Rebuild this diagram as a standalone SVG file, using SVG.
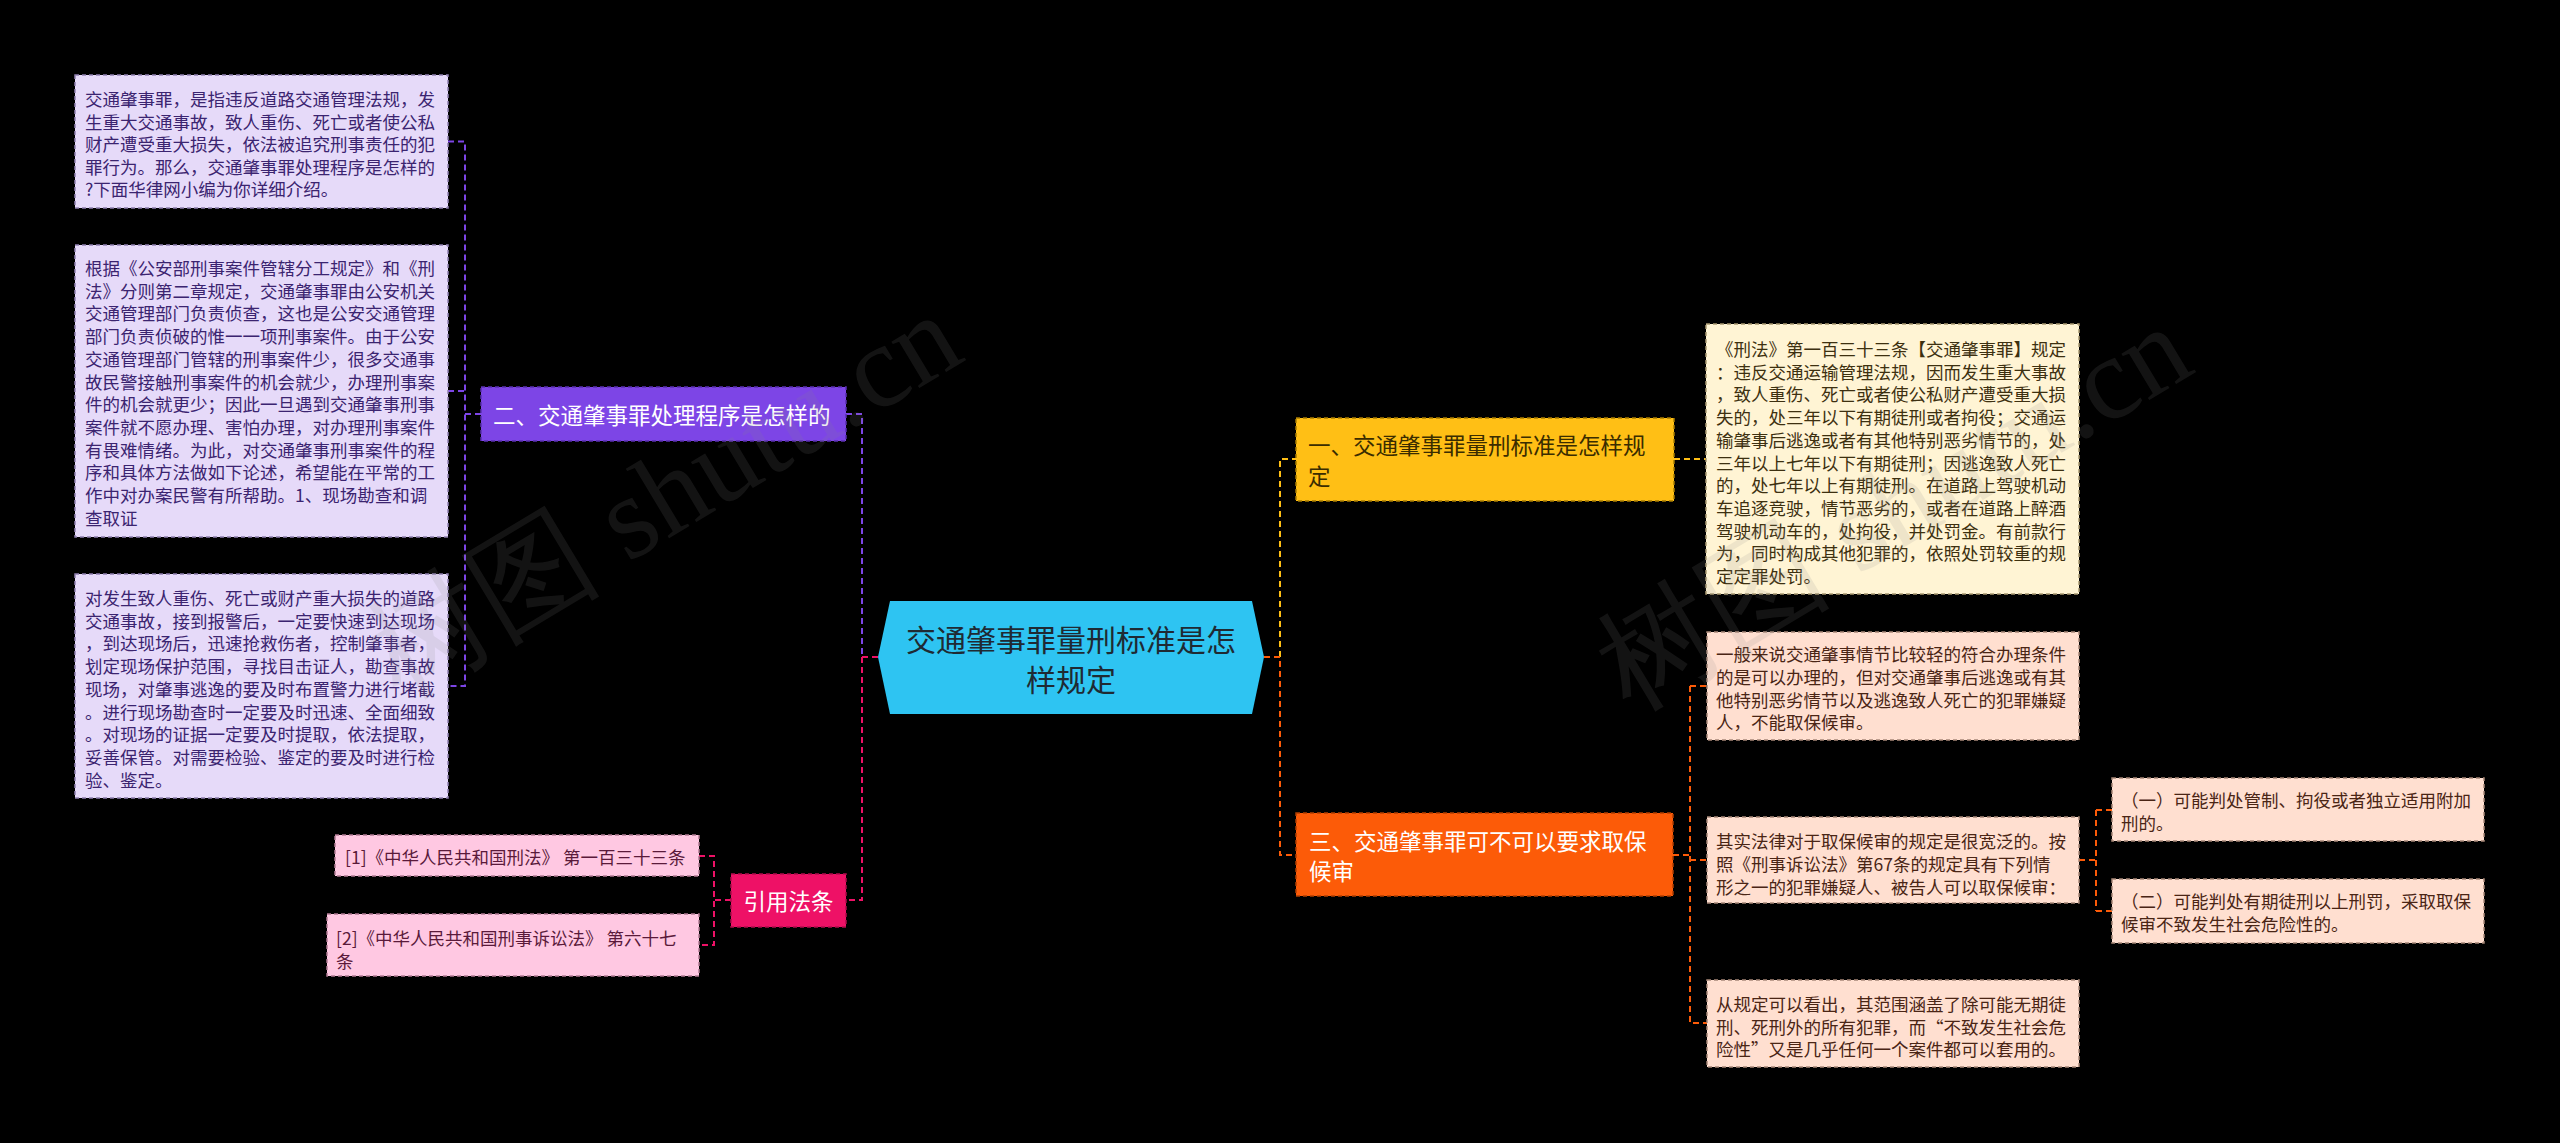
<svg xmlns="http://www.w3.org/2000/svg" width="2560" height="1143" viewBox="0 0 2560 1143">
<style>
text{font-family:"Noto Sans CJK SC","Noto Sans",sans-serif}
.t{font-size:17.5px;dominant-baseline:central}
.b{font-size:22.5px;dominant-baseline:central}
.c{stroke-width:2;stroke-dasharray:6 4;fill:none}
.box{stroke-width:1.5;stroke-dasharray:4 3}
.wm{font-family:"Liberation Serif",serif;font-size:118px;fill:#8a8a8a;opacity:0.14}
</style>
<rect width="2560" height="1143" fill="#000"/>
<g id="connectors">
<path class="c" stroke="#7d45e6" d="M448 141.5H465V686H448M448 391H465M465 414H481M846 414H862V657"/>
<path class="c" stroke="#ee1166" d="M862 657H878M862 657V900H846M731 900H714M699 856H714V945H699"/>
<path class="c" stroke="#ffbf15" d="M1280 657V459H1296M1674 459H1706"/>
<path class="c" stroke="#fc5b08" d="M1264 657H1280V855H1296M1673 855H1690M1690 686V1023H1707M1690 686H1707M1690 860H1707M2079 860H2096M2096 810V911M2096 810H2112M2096 911H2112"/>
</g>
<g id="center">
<polygon points="878,657 890,601 1252,601 1264,657 1252,714 890,714" fill="#2ec4f2"/>
<text x="1071" y="638" font-size="30" fill="#1f2a33" text-anchor="middle" dominant-baseline="central">交通肇事罪量刑标准是怎</text>
<text x="1071" y="678" font-size="30" fill="#1f2a33" text-anchor="middle" dominant-baseline="central">样规定</text>
</g>
<g id="n2">
<rect class="box" x="481" y="387" width="365" height="54" fill="#7d45e6" stroke="#5a2fb0"/>
<text class="b" x="493" y="414" fill="#fff">二、交通肇事罪处理程序是怎样的</text>
</g>
<g id="n2a">
<rect class="box" x="75" y="75" width="373" height="133" fill="#e6daf9" stroke="#8e7fae"/>
<text class="t" fill="#3b2470"><tspan x="85" y="98">交通肇事罪，是指违反道路交通管理法规，发</tspan><tspan x="85" y="120.5">生重大交通事故，致人重伤、死亡或者使公私</tspan><tspan x="85" y="143">财产遭受重大损失，依法被追究刑事责任的犯</tspan><tspan x="85" y="165.5">罪行为。那么，交通肇事罪处理程序是怎样的</tspan><tspan x="85" y="188">?下面华律网小编为你详细介绍。</tspan></text>
</g>
<g id="n2b">
<rect class="box" x="75" y="245" width="373" height="292" fill="#e6daf9" stroke="#8e7fae"/>
<text class="t" fill="#3b2470"><tspan x="85" y="267">根据《公安部刑事案件管辖分工规定》和《刑</tspan><tspan x="85" y="289.7">法》分则第二章规定，交通肇事罪由公安机关</tspan><tspan x="85" y="312.4">交通管理部门负责侦查，这也是公安交通管理</tspan><tspan x="85" y="335.1">部门负责侦破的惟一一项刑事案件。由于公安</tspan><tspan x="85" y="357.8">交通管理部门管辖的刑事案件少，很多交通事</tspan><tspan x="85" y="380.5">故民警接触刑事案件的机会就少，办理刑事案</tspan><tspan x="85" y="403.2">件的机会就更少；因此一旦遇到交通肇事刑事</tspan><tspan x="85" y="425.9">案件就不愿办理、害怕办理，对办理刑事案件</tspan><tspan x="85" y="448.6">有畏难情绪。为此，对交通肇事刑事案件的程</tspan><tspan x="85" y="471.3">序和具体方法做如下论述，希望能在平常的工</tspan><tspan x="85" y="494">作中对办案民警有所帮助。1、现场勘查和调</tspan><tspan x="85" y="516.7">查取证</tspan></text>
</g>
<g id="n2c">
<rect class="box" x="75" y="574" width="373" height="224" fill="#e6daf9" stroke="#8e7fae"/>
<text class="t" fill="#3b2470"><tspan x="85" y="597">对发生致人重伤、死亡或财产重大损失的道路</tspan><tspan x="85" y="619.7">交通事故，接到报警后，一定要快速到达现场</tspan><tspan x="85" y="642.4">，到达现场后，迅速抢救伤者，控制肇事者，</tspan><tspan x="85" y="665.1">划定现场保护范围，寻找目击证人，勘查事故</tspan><tspan x="85" y="687.8">现场，对肇事逃逸的要及时布置警力进行堵截</tspan><tspan x="85" y="710.5">。进行现场勘查时一定要及时迅速、全面细致</tspan><tspan x="85" y="733.2">。对现场的证据一定要及时提取，依法提取，</tspan><tspan x="85" y="755.9">妥善保管。对需要检验、鉴定的要及时进行检</tspan><tspan x="85" y="778.6">验、鉴定。</tspan></text>
</g>
<g id="ref">
<rect class="box" x="731" y="874" width="115" height="53" fill="#ee1166" stroke="#b00c4c"/>
<text class="b" x="788.5" y="900" fill="#fff" text-anchor="middle">引用法条</text>
</g>
<g id="ref1">
<rect class="box" x="335" y="835" width="364" height="41" fill="#ffc8e2" stroke="#b07a93"/>
<text class="t" x="345" y="856" fill="#5a1a3a">[1]《中华人民共和国刑法》 第一百三十三条</text>
</g>
<g id="ref2">
<rect class="box" x="327" y="914" width="372" height="62" fill="#ffc8e2" stroke="#b07a93"/>
<text class="t" fill="#5a1a3a"><tspan x="336" y="937">[2]《中华人民共和国刑事诉讼法》 第六十七</tspan><tspan x="336" y="960">条</tspan></text>
</g>
<g id="n1">
<rect class="box" x="1296" y="418" width="378" height="83" fill="#ffbf15" stroke="#a87c00"/>
<text class="b" fill="#3a2c00"><tspan x="1308" y="444">一、交通肇事罪量刑标准是怎样规</tspan><tspan x="1308" y="475">定</tspan></text>
</g>
<g id="n1a">
<rect class="box" x="1706" y="324" width="373" height="270" fill="#fff4d4" stroke="#a89870"/>
<text class="t" fill="#3d3010"><tspan x="1716" y="348">《刑法》第一百三十三条【交通肇事罪】规定</tspan><tspan x="1716" y="370.7">：违反交通运输管理法规，因而发生重大事故</tspan><tspan x="1716" y="393.4">，致人重伤、死亡或者使公私财产遭受重大损</tspan><tspan x="1716" y="416.1">失的，处三年以下有期徒刑或者拘役；交通运</tspan><tspan x="1716" y="438.8">输肇事后逃逸或者有其他特别恶劣情节的，处</tspan><tspan x="1716" y="461.5">三年以上七年以下有期徒刑；因逃逸致人死亡</tspan><tspan x="1716" y="484.2">的，处七年以上有期徒刑。在道路上驾驶机动</tspan><tspan x="1716" y="506.9">车追逐竞驶，情节恶劣的，或者在道路上醉酒</tspan><tspan x="1716" y="529.6">驾驶机动车的，处拘役，并处罚金。有前款行</tspan><tspan x="1716" y="552.3">为，同时构成其他犯罪的，依照处罚较重的规</tspan><tspan x="1716" y="575">定定罪处罚。</tspan></text>
</g>
<g id="n3">
<rect class="box" x="1296" y="813" width="377" height="83" fill="#fc5b08" stroke="#b03e00"/>
<text class="b" fill="#fff"><tspan x="1309" y="840">三、交通肇事罪可不可以要求取保</tspan><tspan x="1309" y="870">候审</tspan></text>
</g>
<g id="n3a">
<rect class="box" x="1707" y="632" width="372" height="108" fill="#ffdfd0" stroke="#a88878"/>
<text class="t" fill="#4a2515"><tspan x="1716" y="653">一般来说交通肇事情节比较轻的符合办理条件</tspan><tspan x="1716" y="675.8">的是可以办理的，但对交通肇事后逃逸或有其</tspan><tspan x="1716" y="698.6">他特别恶劣情节以及逃逸致人死亡的犯罪嫌疑</tspan><tspan x="1716" y="721.4">人，不能取保候审。</tspan></text>
</g>
<g id="n3b">
<rect class="box" x="1707" y="817" width="372" height="86" fill="#ffdfd0" stroke="#a88878"/>
<text class="t" fill="#4a2515"><tspan x="1716" y="840">其实法律对于取保候审的规定是很宽泛的。按</tspan><tspan x="1716" y="863">照《刑事诉讼法》第67条的规定具有下列情</tspan><tspan x="1716" y="886">形之一的犯罪嫌疑人、被告人可以取保候审：</tspan></text>
</g>
<g id="n3b1">
<rect class="box" x="2112" y="778" width="372" height="63" fill="#ffdfd0" stroke="#a88878"/>
<text class="t" fill="#4a2515"><tspan x="2121" y="799">（一）可能判处管制、拘役或者独立适用附加</tspan><tspan x="2121" y="822">刑的。</tspan></text>
</g>
<g id="n3b2">
<rect class="box" x="2112" y="879" width="372" height="64" fill="#ffdfd0" stroke="#a88878"/>
<text class="t" fill="#4a2515"><tspan x="2121" y="900">（二）可能判处有期徒刑以上刑罚，采取取保</tspan><tspan x="2121" y="923">候审不致发生社会危险性的。</tspan></text>
</g>
<g id="n3c">
<rect class="box" x="1707" y="980" width="372" height="87" fill="#ffdfd0" stroke="#a88878"/>
<text class="t" fill="#4a2515"><tspan x="1716" y="1003">从规定可以看出，其范围涵盖了除可能无期徒</tspan><tspan x="1716" y="1025.5">刑、死刑外的所有犯罪，而“不致发生社会危</tspan><tspan x="1716" y="1048">险性”又是几乎任何一个案件都可以套用的。</tspan></text>
</g>
<g id="watermark">
<text class="wm" transform="translate(400,700) rotate(-31)">树图 shutu.cn</text>
<text class="wm" transform="translate(1630,712) rotate(-31)">树图 shutu.cn</text>
</g>
</svg>
